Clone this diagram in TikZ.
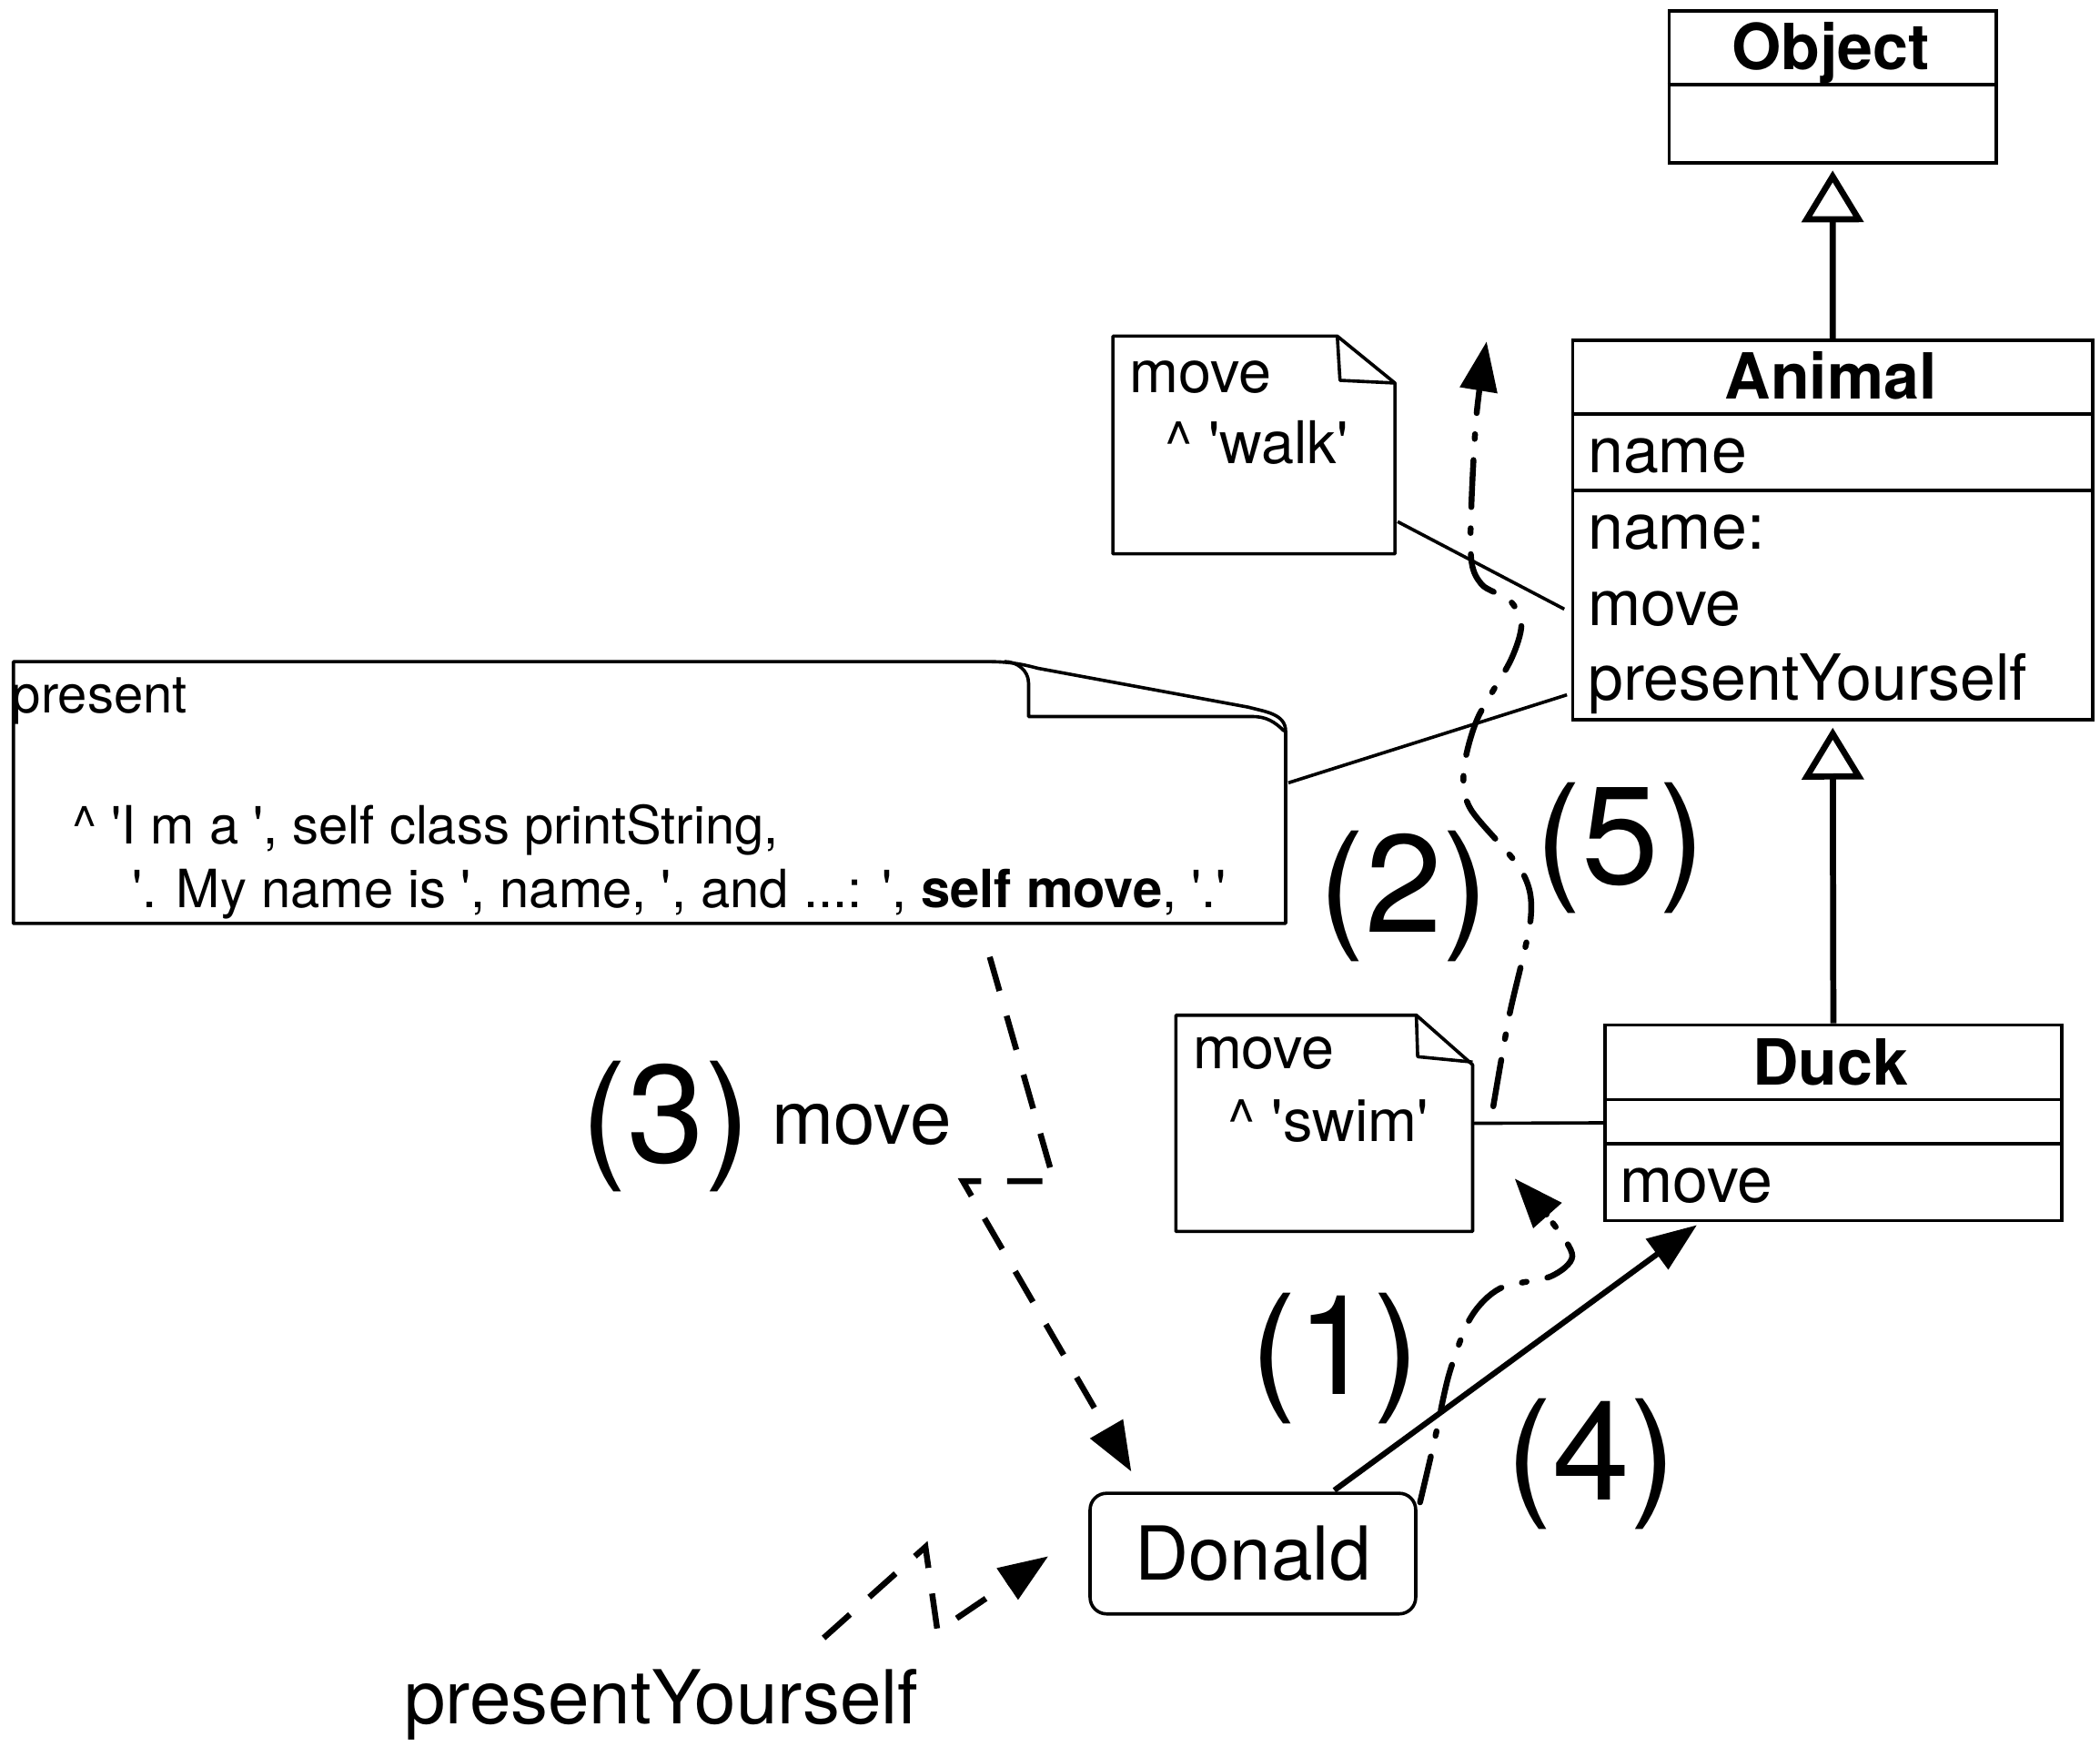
\documentclass[tikz,border=0pt]{standalone}
\usepackage{fontspec}
\setmainfont{TeX Gyre Heros}[Ligatures=TeXOff]
\usetikzlibrary{arrows.meta,calc}
\tikzset{
  font={\fontsize{13.5pt}{16pt}\selectfont},
  classbox/.style={draw, line width=0.75pt, inner sep=0pt, anchor=north west},
  classname/.style={inner sep=0pt, anchor=base, font={\fontsize{13.5pt}{16pt}\selectfont\bfseries}},
  member/.style={inner sep=0pt, anchor=base west},
  sepline/.style={line width=0.75pt},
  noteframe/.style={inner sep=0pt, anchor=north west},
  notebox/.style={draw, line width=0.7pt, line join=round},
  notetext/.style={inner sep=0pt, anchor=base west, font={\fontsize{12.5pt}{15pt}\selectfont}},
  codetext/.style={inner sep=0pt, anchor=base west, font={\fontsize{11.2pt}{14pt}\selectfont}},
  msgtext/.style={inner sep=0pt, anchor=base west, font={\fontsize{15.8pt}{19pt}\selectfont}},
  objectbox/.style={draw, rounded corners=3.5pt, line width=0.7pt, inner sep=0pt, font={\fontsize{15.8pt}{19pt}\selectfont}},
  steplabel/.style={inner sep=0pt, font={\fontsize{29.5pt}{34pt}\selectfont}},
  inherit/.style={line width=1.3pt, -{Triangle[open, length=11pt, width=13pt]}, shorten >=1.3pt},
  link/.style={line width=0.7pt},
  msgtip/.style={-{Triangle[length=10.5pt, width=7.8pt]}},
  send/.style={msgtip, line width=1.2pt},
  sendself/.style={msgtip, line width=1.25pt, dash pattern=on 7.5pt off 5.5pt},
  lookup/.style={msgtip, line width=1.25pt, line cap=round, dash pattern=on 10pt off 4.5pt on 1pt off 4.5pt}
}

\begin{document}
\begin{tikzpicture}[x=0.01cm, y=-0.01cm]
\useasboundingbox (0,0) rectangle (1568,1304);
\node[classbox, minimum width=2.44cm, minimum height=1.13cm] (object) at (1245,7) {};
\draw[sepline] ($(object.north west)+(0,56)$) -- ($(object.north east)+(0,56)$);
\node[classname] (objectname) at (1367,52) {Object};
\node[classbox, minimum width=3.88cm, minimum height=2.83cm] (animal) at (1173,253) {};
\draw[sepline] ($(animal.north west)+(0,56)$) -- ($(animal.north east)+(0,56)$);
\draw[sepline] ($(animal.north west)+(0,113)$) -- ($(animal.north east)+(0,113)$);
\node[classname] (animalname) at (1367,298) {Animal};
\node[member] (aname) at (1185,353) {name};
\node[member] (anameset) at (1185,410) {name:};
\node[member] (amove) at (1185,467) {move};
\node[member] (apresent) at (1185,523) {presentYourself};
\node[classbox, minimum width=3.41cm, minimum height=1.46cm] (duck) at (1197,764) {};
\draw[sepline] ($(duck.north west)+(0,57)$) -- ($(duck.north east)+(0,57)$);
\draw[sepline] ($(duck.north west)+(0,90)$) -- ($(duck.north east)+(0,90)$);
\node[classname] (duckname) at (1367,810) {Duck};
\node[member] (dmove) at (1209,898) {move};
\draw[inherit] (animal.north) -- (object.south);
\draw[inherit] (duck.north) -- (animal.south);
\node[noteframe, minimum width=2.09cm, minimum height=1.61cm] (walk) at (831,251) {};
\draw[notebox] (walk.north west) -- ($(walk.north east)+(-43,0)$) -- ($(walk.north east)+(0,35)$) -- (walk.south east) -- (walk.south west) -- cycle;
\draw[notebox] ($(walk.north east)+(-43,0)$) -- ($(walk.north east)+(-41,33)$) -- ($(walk.north east)+(0,35)$);
\node[notetext] (walkline1) at (843,293) {move};
\node[notetext] (walkline2) at (869,346) {\textasciicircum{} 'walk'};
\node[noteframe, minimum width=2.2cm, minimum height=1.6cm] (swim) at (878,758) {};
\draw[notebox] (swim.north west) -- ($(swim.north east)+(-42,0)$) -- ($(swim.north east)+(0,37)$) -- (swim.south east) -- (swim.south west) -- cycle;
\draw[notebox] ($(swim.north east)+(-42,0)$) -- ($(swim.north east)+(-41,31)$) -- ($(swim.north east)+(0,35)$);
\node[notetext] (swimline1) at (890,798) {move};
\node[notetext] (swimline2) at (916,852) {\textasciicircum{} 'swim'};
\node[noteframe, minimum width=9.48cm, minimum height=1.94cm] (present) at (10,494) {};
\draw[notebox] (present.south west) -- (present.north west) -- ($(present.north west)+(725,0)$) to[out=0, in=165] ($(present.north west)+(765,5)$) -- ($(present.north east)+(-28,34)$) to[out=-15, in=90] ($(present.north east)+(0,52)$) -- (present.south east) -- cycle;
\draw[notebox] ($(present.north west)+(740,0)$) to[out=0, in=90] ($(present.north west)+(758,16)$) -- ($(present.north west)+(758,41)$) -- ($(present.north east)+(-25,41)$) to[out=0, in=135] ($(present.north east)+(-1,52)$);
\node[codetext] (pline1) at (8,532) {present};
\node[codetext] (pline2) at (53,630) {\textasciicircum{} 'I m a ', self class printString,};
\node[codetext] (pline3) at (98,678) {'. My name is ', name, ', and ...: ', \textbf{self move}, '.'};
\draw[link] ($(walk.south east)+(2,-24)$) -- ($(animal.south west)+(-5,-84)$);
\draw[link] ($(present.south east)+(2,-105)$) -- ($(animal.south west)+(-3,-20)$);
\draw[link] (swim.east) -- (duck.west);
\node[objectbox, minimum width=2.43cm, minimum height=0.9cm] (donald) at (935.5,1160) {Donald};
\draw[send] ($(donald.north east)+(-62,-1)$) -- ($(duck.south west)+(70,2)$);
\coordinate (m0) at ($(present.south west)+(729,25)$);
\coordinate (m1) at (787,882);
\coordinate (m2) at (719,882);
\draw[sendself] (m0) -- (m1) -- (m2) -- ($(donald.north west)+(32,-15)$);
\coordinate (p0) at (615,1223);
\coordinate (p1) at (691,1155);
\coordinate (p2) at (700,1218);
\draw[sendself] (p0) -- (p1) -- (p2) -- ($(donald.west)+(-30,2)$);
\coordinate (l1) at ($(donald.north east)+(2,8)$);
\draw[lookup] plot[smooth] coordinates {(l1) (1071,1076) (1082,1026) (1098,984) (1120,962) (1158,953) (1174,938) (1160,914) (1131,880)};
\coordinate (l2) at (1115,826);
\draw[lookup] plot[smooth] coordinates {(l2) (1127,758) (1143,685) (1136,650) (1098,604) (1093,575) (1103,537) (1128,493) (1136,466) (1127,448) (1106,436) (1098,410) (1102,315) (1110,255)};
\node[steplabel] (s1) at (997,1014) {(1)};
\node[steplabel] (s2) at (1048,669) {(2)};
\node[steplabel] (s3) at (497,841) {(3)};
\node[steplabel] (s4) at (1188,1093) {(4)};
\node[steplabel] (s5) at (1210,633) {(5)};
\node[msgtext] (movelabel) at (576,854) {move};
\node[msgtext] (presentlabel) at (301,1287) {presentYourself};
\end{tikzpicture}
\end{document}
